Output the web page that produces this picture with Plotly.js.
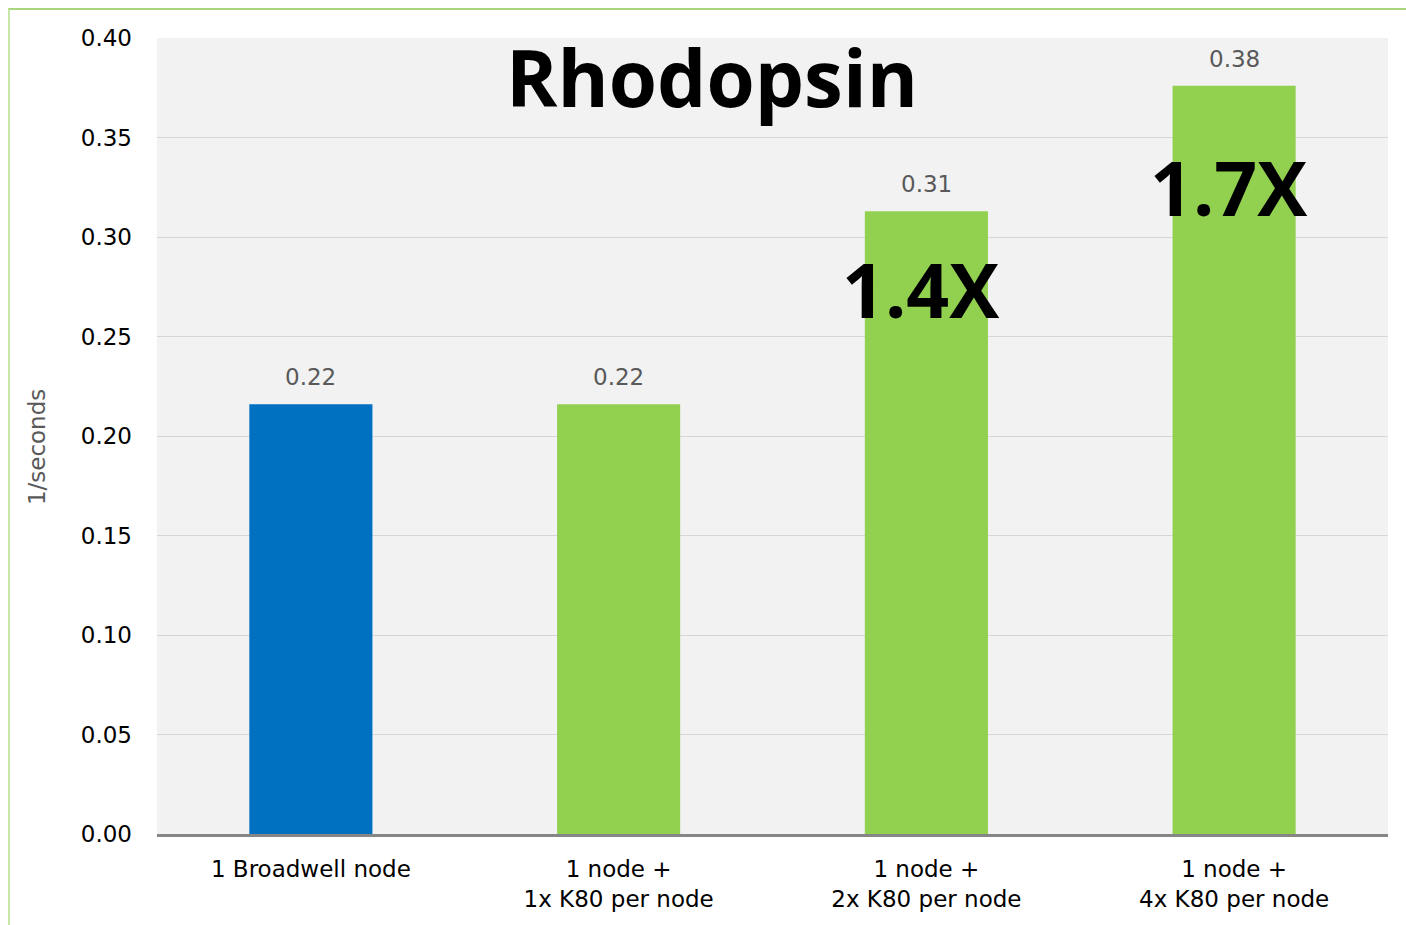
<!DOCTYPE html>
<html>
<head>
<meta charset="utf-8">
<script src="https://cdn.plot.ly/plotly-3.0.1.min.js"></script>
<style>
  html, body { margin: 0; padding: 0; background: #fff; }
  #wrap { position: relative; width: 1406px; height: 925px; }
  #frame { position: absolute; left: 8px; top: 8px; right: 0; bottom: 0;
           border-top: 2px solid #a9d67a; border-left: 2px solid #c8e6a8; pointer-events: none; z-index: 5; }
  #chart { position: absolute; left: 0; top: 0; width: 1406px; height: 925px; }
</style>
</head>
<body>
<div id="wrap">
  <div id="chart"></div>
  <div id="frame"></div>
</div>
<script>
const categories = ["1 Broadwell node", "1 node +<br>1x K80 per node", "1 node +<br>2x K80 per node", "1 node +<br>4x K80 per node"];
const values = [0.216, 0.216, 0.313, 0.376];
const barColors = ["#0070c0", "#92d050", "#92d050", "#92d050"];
const speedups = ["", "", "1.4X", "1.7X"];
const tickVals = [0, 0.05, 0.10, 0.15, 0.20, 0.25, 0.30, 0.35, 0.40];

const font = "DejaVu Sans, Verdana, sans-serif";

const trace = {
  type: "bar",
  x: categories,
  y: values,
  marker: { color: barColors, line: { width: 0 } },
  width: 0.4,
  hoverinfo: "x+y"
};

const annotations = [];
values.forEach((v, i) => {
  annotations.push({
    x: categories[i], y: v, xref: "x", yref: "y",
    text: v.toFixed(2), showarrow: false,
    yanchor: "bottom", yshift: 12,
    font: { family: font, size: 23, color: "#595959" }
  });
});
const speedShift = [0, 0, -78, -101];
speedups.forEach((s, i) => {
  if (!s) return;
  annotations.push({
    x: categories[i], y: values[i], xref: "x", yref: "y",
    text: "<b>" + s + "</b>", showarrow: false,
    yanchor: "middle", yshift: speedShift[i], xshift: -5,
    font: { family: "Open Sans, DejaVu Sans, sans-serif", size: 75, color: "#000" }
  });
});
annotations.push({
  xref: "paper", yref: "paper", x: -0.0975, y: 0.486,
  text: "1/seconds", showarrow: false, textangle: -90,
  xanchor: "center", yanchor: "middle",
  font: { family: font, size: 23, color: "#595959" }
});

const layout = {
  width: 1406, height: 925,
  margin: { l: 157, r: 18, t: 38, b: 91 },
  paper_bgcolor: "rgba(0,0,0,0)",
  plot_bgcolor: "#f2f2f2",
  showlegend: false,
  bargap: 0.6,
  title: {
    text: "<b>Rhodopsin</b>",
    x: 712 / 1406, xanchor: "center",
    y: 1 - 80 / 925, yanchor: "middle",
    font: { family: "Open Sans, DejaVu Sans, sans-serif", size: 78, color: "#000" }
  },
  xaxis: {
    type: "category",
    showline: true, linecolor: "#868686", linewidth: 3,
    showgrid: false, zeroline: false,
    ticks: "", ticklabelstandoff: 12,
    tickfont: { family: font, size: 23, color: "#000" }
  },
  yaxis: {
    range: [0, 0.4],
    tickvals: tickVals,
    tickformat: ".2f",
    showgrid: true, gridcolor: "#d6d6d6", gridwidth: 1,
    zeroline: false, showline: false,
    ticks: "", ticklabelstandoff: 24,
    tickfont: { family: font, size: 23, color: "#000" }
  },
  annotations: annotations
};

Plotly.newPlot("chart", [trace], layout, { displayModeBar: false, staticPlot: true });
</script>
</body>
</html>
